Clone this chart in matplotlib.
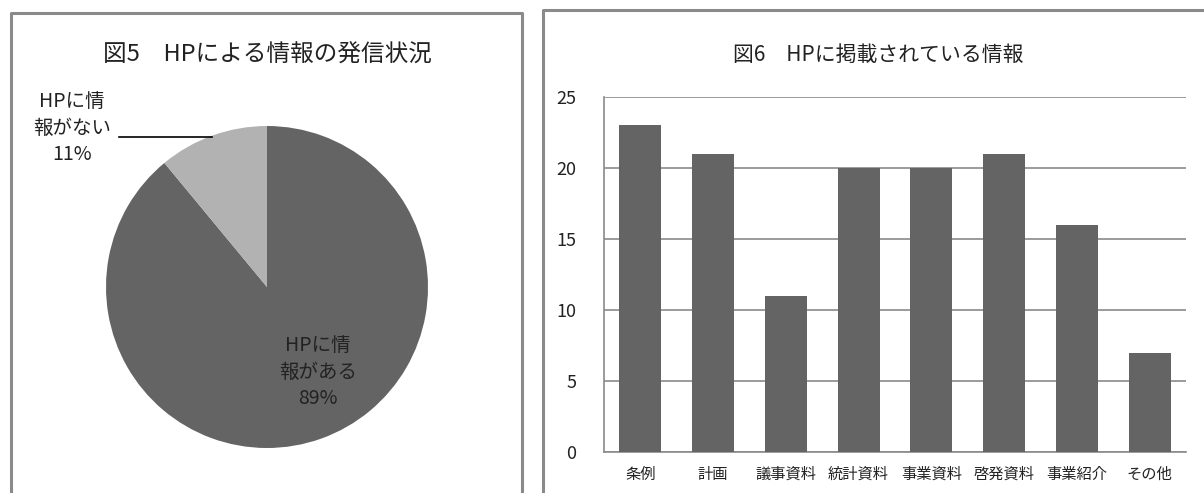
import matplotlib
matplotlib.use("Agg")
import matplotlib.pyplot as plt
from matplotlib.lines import Line2D

plt.rcParams['font.family'] = ['Noto Sans CJK JP', 'DejaVu Sans']

# --- data ---
pie_labels = ["HPに情\n報がある", "HPに情\n報がない"]
pie_values = [89, 11]
pie_colors = ["#646464", "#b2b2b2"]

bar_cats = ["条例", "計画", "議事資料", "統計資料", "事業資料", "啓発資料", "事業紹介", "その他"]
bar_vals = [23, 21, 11, 20, 20, 21, 16, 7]
y_ticks = [0, 5, 10, 15, 20, 25]

W, H = 1204, 493
fig = plt.figure(figsize=(W / 100, H / 100), dpi=100)

def fx(px): return px / W
def fy(py): return 1 - py / H

# panel borders
border = "#8a8a8a"
fig.add_artist(Line2D([fx(11), fx(11), fx(522), fx(522)], [0, fy(13), fy(13), 0],
                      color=border, lw=2.2, transform=fig.transFigure))
fig.add_artist(Line2D([fx(543), fx(543), 1.0], [0, fy(10), fy(10)],
                      color=border, lw=2.2, transform=fig.transFigure))

# ---- 図5 pie ----
cx, cy, r = 267, 287, 161
axp = fig.add_axes([fx(cx - r), fy(cy + r), (2 * r) / W, (2 * r) / H])
axp.pie(pie_values, colors=pie_colors, startangle=90, counterclock=False,
        wedgeprops=dict(linewidth=0))
axp.set_xlim(-1, 1)
axp.set_ylim(-1, 1)
axp.set_aspect("equal")
fig.text(fx(267), fy(55), "図5　HPによる情報の発信状況", ha="center", va="center",
         fontsize=17, color="#222222")
fig.text(fx(318), fy(372), f"{pie_labels[0]}\n{pie_values[0]}%", ha="center", va="center",
         fontsize=14, color="#222222", linespacing=1.35)
fig.text(fx(72), fy(128), f"{pie_labels[1]}\n{pie_values[1]}%", ha="center", va="center",
         fontsize=14, color="#222222", linespacing=1.35)
fig.add_artist(Line2D([fx(119), fx(212)], [fy(137), fy(137)], color="black", lw=1.2,
                      transform=fig.transFigure))

# ---- 図6 bars ----
axb = fig.add_axes([fx(604), fy(452), (1186 - 604) / W, (452 - 97) / H])
x = list(range(len(bar_cats)))
axb.bar(x, bar_vals, width=0.58, color="#646464", zorder=3)
axb.set_xlim(-0.5, len(bar_cats) - 0.5)
axb.set_ylim(0, 25)
axb.set_yticks(y_ticks)
axb.set_yticklabels([str(t) for t in y_ticks], fontsize=13, color="#222222")
axb.set_xticks(x)
axb.set_xticklabels(bar_cats, fontsize=11, color="#222222")
axb.tick_params(axis="both", length=0)
axb.tick_params(axis="y", pad=20)
axb.tick_params(axis="x", pad=10)
axb.yaxis.grid(True, color="#8a8a8a", lw=1.2, zorder=0)
for s in ["top", "right"]:
    axb.spines[s].set_visible(False)
for s in ["left", "bottom"]:
    axb.spines[s].set_color("#8a8a8a")
    axb.spines[s].set_linewidth(1.2)
fig.text(fx(878), fy(55), "図6　HPに掲載されている情報", ha="center", va="center",
         fontsize=15, color="#222222")

fig.savefig("out.png", dpi=100)
